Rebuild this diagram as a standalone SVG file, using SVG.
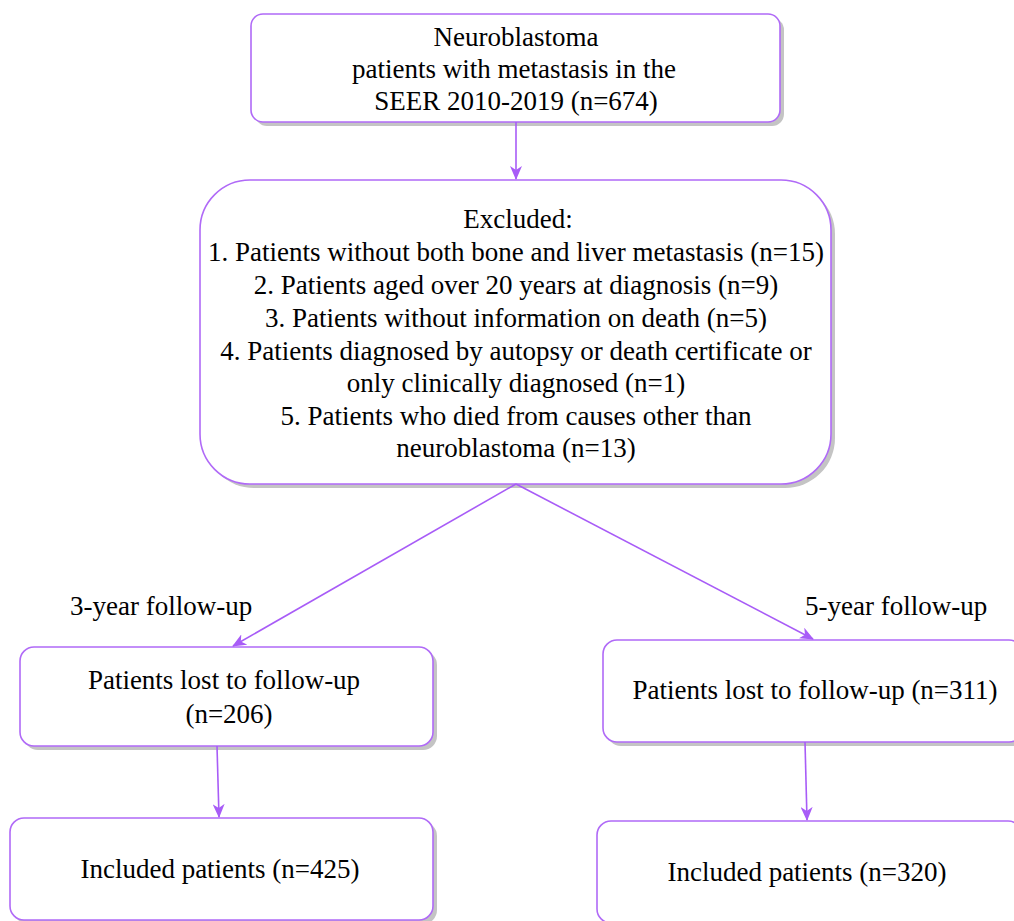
<svg xmlns="http://www.w3.org/2000/svg" width="1014" height="921" viewBox="0 0 1014 921">
<style>
.box{fill:#fff;stroke:#b06af7;stroke-width:1.6}
.sh{fill:#c4c4c4}
text{font-family:'Liberation Serif','Times New Roman',serif;font-size:27px;fill:#000}
.t{text-anchor:middle}
.c{stroke:#a85cf7;stroke-width:1.6;fill:none;marker-end:url(#ah)}
</style>
<defs>
<marker id="ah" markerWidth="14" markerHeight="12" refX="13" refY="6" orient="auto" markerUnits="userSpaceOnUse">
<path d="M0,0 L14,6 L0,12 L4,6 Z" fill="#a85cf7"/>
</marker>
</defs>
<g id="n1">
<rect class="sh" x="255" y="18" width="529" height="108" rx="12"/>
<rect class="box" x="251" y="14" width="529" height="108" rx="12"/>
<text class="t" x="516" y="46">Neuroblastoma</text>
<text class="t" x="514" y="78">patients with metastasis in the</text>
<text class="t" x="516" y="110">SEER 2010-2019 (n=674)</text>
</g>
<g id="n2">
<rect class="sh" x="204" y="184" width="631" height="304" rx="50"/>
<rect class="box" x="200" y="180" width="631" height="304" rx="50"/>
<text class="t" x="518" y="228">Excluded:</text>
<text class="t" x="516" y="261">1. Patients without both bone and liver metastasis (n=15)</text>
<text class="t" x="516" y="294">2. Patients aged over 20 years at diagnosis (n=9)</text>
<text class="t" x="516" y="327">3. Patients without information on death (n=5)</text>
<text class="t" x="516" y="360">4. Patients diagnosed by autopsy or death certificate or</text>
<text class="t" x="516" y="392">only clinically diagnosed (n=1)</text>
<text class="t" x="516" y="425">5. Patients who died from causes other than</text>
<text class="t" x="516" y="457">neuroblastoma (n=13)</text>
</g>
<g id="lbl3">
<text x="70" y="615">3-year follow-up</text>
</g>
<g id="lbl5">
<text x="805" y="615">5-year follow-up</text>
</g>
<g id="n3">
<rect class="sh" x="24" y="651" width="413" height="99" rx="14"/>
<rect class="box" x="20" y="647" width="413" height="99" rx="14"/>
<text class="t" x="224" y="689">Patients lost to follow-up</text>
<text class="t" x="229" y="723">(n=206)</text>
</g>
<g id="n4">
<rect class="sh" x="607" y="644" width="420" height="102" rx="14"/>
<rect class="box" x="603" y="640" width="420" height="102" rx="14"/>
<text class="t" x="815" y="699">Patients lost to follow-up (n=311)</text>
</g>
<g id="n5">
<rect class="sh" x="14" y="822" width="423" height="102" rx="14"/>
<rect class="box" x="10" y="818" width="423" height="102" rx="14"/>
<text class="t" x="220" y="878">Included patients (n=425)</text>
</g>
<g id="n6">
<rect class="sh" x="601" y="825" width="425" height="102" rx="14"/>
<rect class="box" x="597" y="821" width="425" height="102" rx="14"/>
<text class="t" x="807" y="881">Included patients (n=320)</text>
</g>
<g id="connectors">
<line class="c" x1="516" y1="122" x2="516" y2="179"/>
<line class="c" x1="516" y1="484" x2="233" y2="646"/>
<line class="c" x1="516" y1="484" x2="813" y2="639"/>
<line class="c" x1="217" y1="746" x2="219" y2="817"/>
<line class="c" x1="805" y1="742" x2="807" y2="820"/>
</g>
</svg>
